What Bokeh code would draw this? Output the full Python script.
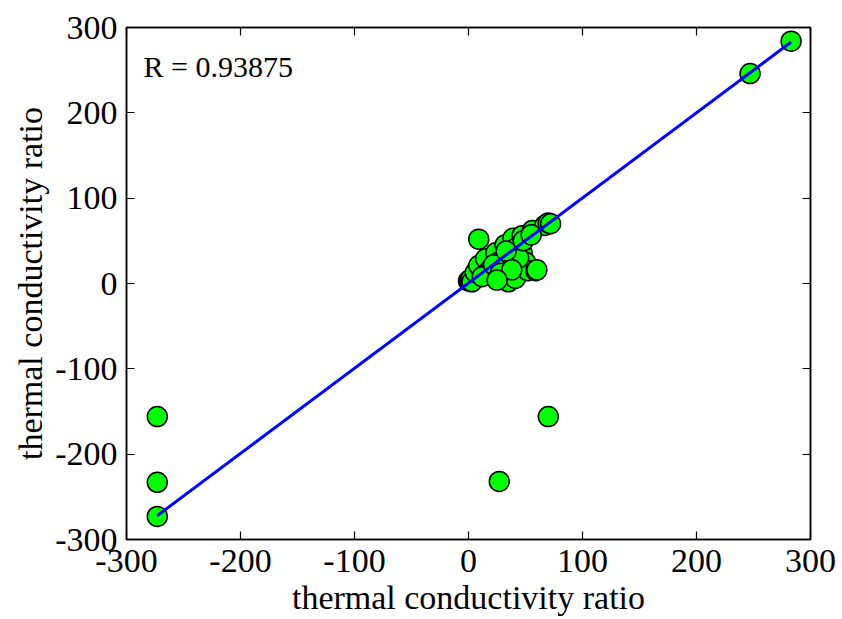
from bokeh.plotting import figure
from bokeh.models import (LinearAxis, Range1d, FixedTicker, Label,
                          PrintfTickFormatter, CustomJSTickFormatter)
from bokeh.embed import file_html
from bokeh.resources import INLINE

# Data (target vs predicted thermal conductivity ratio)
x_vals = [-273, -273, -273, 247, 283, 70, 27, 9,
          0, 1, 2, 3, 6, 9, 15, 17, 24, 26, 30, 32, 35, 39, 39, 41,
          41, 45, 47, 47, 50, 52, 56, 59, 60, 67, 70, 72, 30, 36, 44,
          20, 12, 22, 28, 48, 55, 33, 38, 25]
y_vals = [-273, -233, -156, 246, 284, -156, -232, 52,
          3, 4, 5, 2, 13, 21, 29, 13, 36, 25, 6, 45, 2, 53, 29, 6,
          41, 20, 56, 36, 25, 15, 62, 15, 16, 68, 71, 70, 20, 33, 30,
          18, 8, 22, 12, 50, 57, 38, 16, 4]
fit_x = [-273, 283]
fit_y = [-272, 283]
ticks = [-300, -200, -100, 0, 100, 200, 300]
r_text = "R = 0.93875"
axis_title = "thermal conductivity ratio"

FONT = "Liberation Serif"

p = figure(width=842, height=619, output_backend="svg", toolbar_location=None,
           x_range=Range1d(-300, 300), y_range=Range1d(-300, 300),
           min_border_left=126, min_border_right=32, min_border_top=27,
           min_border_bottom=80)
p.grid.visible = False
p.outline_line_color = "black"
p.outline_line_width = 1.5
p.background_fill_color = "white"
p.border_fill_color = "white"

for ax in [p.xaxis[0], p.yaxis[0]]:
    ax.ticker = FixedTicker(ticks=ticks)
    ax.formatter = PrintfTickFormatter(format="%d")
    ax.major_tick_in = 8
    ax.major_tick_out = 0
    ax.minor_tick_line_color = None
    ax.axis_line_color = "black"
    ax.axis_line_width = 1.5
    ax.major_tick_line_width = 1.2
    ax.major_label_text_font = FONT
    ax.major_label_text_font_size = "34px"
    ax.major_label_text_color = "black"
    ax.axis_label = axis_title
    ax.axis_label_text_font = FONT
    ax.axis_label_text_font_size = "34px"
    ax.axis_label_text_font_style = "normal"
    ax.axis_label_text_color = "black"

p.xaxis[0].major_label_standoff = 10
p.xaxis[0].axis_label_standoff = 4
p.yaxis[0].major_label_standoff = 9
p.yaxis[0].axis_label_standoff = 3

for loc in ["above", "right"]:
    a = LinearAxis(ticker=FixedTicker(ticks=ticks), major_tick_in=8, major_tick_out=0,
                   minor_tick_line_color=None,
                   formatter=CustomJSTickFormatter(code="return ''"),
                   axis_line_color="black", axis_line_width=1.5,
                   major_tick_line_width=1.2, major_label_standoff=0)
    p.add_layout(a, loc)

p.scatter(x_vals, y_vals, size=20, fill_color="#00ff00", line_color="black",
          line_width=1.5)
p.line(fit_x, fit_y, line_color="#0000ff", line_width=3)

p.add_layout(Label(x=-285, y=254, text=r_text, text_font=FONT,
                   text_font_size="30px", text_color="black",
                   text_baseline="middle"))

open("out.html", "w").write(file_html(p, INLINE))
